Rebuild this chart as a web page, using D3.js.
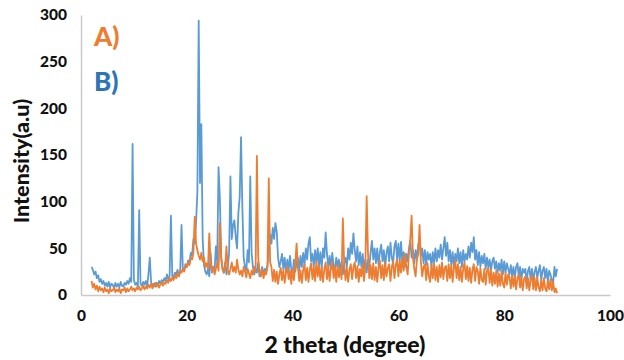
<!DOCTYPE html>
<html>
<head>
<meta charset="utf-8">
<script src="https://cdn.jsdelivr.net/npm/d3@7"></script>
<style>
  body { margin: 0; background: #fff; }
  text { font-family: Lato, "Open Sans", sans-serif; font-weight: 900; }
</style>
</head>
<body>
<svg id="chart"></svg>
<script>
// 2 theta scan, 2.00 -> 90.00 deg, one reading every 0.25 deg
const thetaStart = 2;
const thetaStep = 0.25;

// sample B) (blue)
const seriesB = [
  30, 27, 22, 25,  18, 21, 14, 17,  12, 15, 10, 13,  9, 14, 8, 12,
  11, 7, 13, 9,  12, 8, 14, 10,  9, 13, 11, 15,  12, 18, 14, 162,
  16, 11, 13, 9,  91, 12, 10, 14,  11, 15, 9, 22,  40, 14, 10, 12,
  9, 13, 11, 15,  12, 16, 14, 18,  15, 22, 17, 20,  85, 21, 18, 24,
  22, 27, 20, 25,  75, 28, 26, 33,  30, 37, 34, 45,  42, 60, 55, 78,
  110, 294, 120, 183,  60, 32, 25, 22,  28, 20, 45, 24,  30, 26, 52, 35,
  137, 104, 40, 28,  24, 35, 22, 30,  45, 127, 60, 75,  80, 62, 50, 88,
  105, 169, 95, 40,  30, 26, 48, 35,  127, 45, 30, 22,  28, 24, 35, 20,
  25, 30, 22, 28,  26, 32, 50, 65,  55, 72, 60, 77,  68, 40, 30, 36,
  44, 28, 40, 24,  38, 26, 42, 28,  22, 38, 25, 34,  40, 26, 42, 30,
  45, 32, 50, 38,  55, 62, 36, 44,  30, 48, 34, 50,  32, 46, 28, 50,
  40, 67, 44, 30,  42, 28, 45, 32,  26, 40, 30, 38,  24, 36, 22, 34,
  40, 30, 50, 38,  56, 44, 66, 48,  36, 52, 32, 46,  30, 44, 28, 38,
  24, 38, 30, 46,  58, 38, 50, 34,  50, 32, 46, 54,  36, 48, 30, 45,
  52, 36, 56, 40,  34, 52, 58, 38,  55, 36, 57, 34,  46, 30, 44, 36,
  50, 58, 40, 48,  34, 48, 38, 54,  60, 42, 50, 34,  48, 32, 46, 38,
  44, 30, 46, 34,  50, 36, 48, 40,  54, 38, 50, 62,  42, 56, 36, 48,
  32, 46, 30, 44,  36, 50, 34, 46,  30, 48, 36, 44,  38, 52, 40, 56,
  46, 62, 38, 48,  32, 46, 30, 42,  34, 44, 28, 40,  30, 38, 26, 36,
  40, 28, 36, 24,  34, 26, 38, 22,  36, 24, 34, 28,  22, 32, 20, 30,
  18, 30, 34, 20,  30, 16, 28, 24,  28, 14, 26, 30,  16, 28, 14, 25,
  30, 18, 26, 32,  16, 26, 30, 18,  28, 14, 26, 22,  16, 12, 30, 20,
  28
];

// sample A) (orange)
const seriesA = [
  15, 8, 12, 6,  10, 4, 9, 5,  7, 3, 8, 4,  6, 2, 7, 4,
  5, 8, 3, 6,  4, 7, 2, 6,  5, 8, 3, 7,  4, 6, 9, 5,
  7, 4, 8, 6,  9, 5, 7, 10,  6, 9, 7, 11,  8, 12, 7, 10,
  13, 9, 12, 8,  11, 14, 10, 13,  12, 16, 13, 18,  15, 19, 16, 21,
  18, 23, 20, 26,  24, 28, 25, 32,  30, 35, 32, 40,  38, 45, 84, 55,
  48, 42, 38, 45,  36, 40, 30, 34,  28, 66, 35, 25,  30, 22, 28, 35,
  26, 77, 40, 28,  24, 30, 52, 26,  22, 28, 35, 25,  30, 24, 38, 27,
  22, 26, 20, 30,  25, 19, 28, 23,  18, 26, 22, 30,  25, 149, 40, 24,
  20, 28, 18, 25,  22, 30, 125, 35,  30, 15, 27, 14,  25, 12, 22, 29,
  16, 27, 13, 24,  30, 17, 26, 12,  28, 16, 32, 55,  30, 15, 26, 13,
  27, 33, 16, 29,  14, 27, 34, 17,  30, 15, 36, 20,  32, 16, 29, 14,
  28, 35, 17, 31,  15, 29, 36, 18,  30, 14, 32, 19,  29, 17, 82, 33,
  16, 29, 14, 27,  33, 17, 30, 35,  18, 31, 14, 28,  20, 33, 15, 30,
  106, 45, 18, 32,  17, 34, 16, 30,  14, 29, 37, 18,  32, 16, 35, 20,
  29, 33, 15, 30,  36, 18, 32, 38,  20, 36, 24, 40,  26, 44, 30, 22,
  45, 60, 85, 40,  28, 20, 38, 44,  75, 36, 20, 30,  33, 16, 34, 20,
  14, 32, 18, 34,  16, 30, 14, 32,  19, 35, 17, 29,  31, 15, 33, 18,
  32, 14, 29, 37,  18, 33, 16, 30,  14, 28, 35, 17,  31, 15, 29, 13,
  27, 33, 15, 30,  26, 12, 29, 16,  14, 28, 11, 26,  29, 13, 27, 10,
  24, 12, 26, 9,  23, 10, 25, 12,  8, 24, 11, 22,  19, 7, 21, 9,
  20, 6, 18, 22,  8, 19, 5, 17,  20, 7, 18, 5,  17, 21, 6, 18,
  5, 19, 8, 4,  16, 5, 18, 7,  4, 15, 6, 17,  5, 14, 3, 7,
  2
];

const xTicks = [0, 20, 40, 60, 80, 100];
const yTicks = [0, 50, 100, 150, 200, 250, 300];
const labels = ['A)', 'B)'];

const width = 624;
const height = 360;
const margin = { top: 15, right: 14, bottom: 65, left: 81 };

const svg = d3.select('#chart')
  .attr('width', width)
  .attr('height', height);

const x = d3.scaleLinear().domain([0, 100]).range([margin.left, width - margin.right]);
const y = d3.scaleLinear().domain([0, 300]).range([height - margin.bottom, margin.top]);

// axes: light grey lines, no tick marks
const xAxis = svg.append('g')
  .attr('transform', 'translate(0,' + (height - margin.bottom) + ')')
  .call(d3.axisBottom(x).tickValues(xTicks).tickSize(0).tickPadding(15));
const yAxis = svg.append('g')
  .attr('transform', 'translate(' + margin.left + ',0)')
  .call(d3.axisLeft(y).tickValues(yTicks).tickSize(0).tickPadding(14));

[xAxis, yAxis].forEach((g) => {
  g.select('.domain').attr('stroke', '#c9c9c9').attr('stroke-width', 1.5);
  g.selectAll('text')
    .attr('fill', '#111')
    .style('font-size', '15.5px');
});

const line = d3.line()
  .x((d, i) => x(thetaStart + i * thetaStep))
  .y((d) => y(d));

svg.append('path')
  .datum(seriesB)
  .attr('d', line)
  .attr('fill', 'none')
  .attr('stroke', '#5B9BD5')
  .attr('stroke-width', 1.8)
  .attr('stroke-linejoin', 'round');

svg.append('path')
  .datum(seriesA)
  .attr('d', line)
  .attr('fill', 'none')
  .attr('stroke', '#ED7D31')
  .attr('stroke-width', 1.8)
  .attr('stroke-linejoin', 'round');

// series labels
svg.append('text')
  .attr('x', 94).attr('y', 46)
  .attr('fill', '#ED7D31')
  .style('font-size', '26px')
  .text(labels[0]);
svg.append('text')
  .attr('x', 94).attr('y', 91)
  .attr('fill', '#2E75B6')
  .style('font-size', '26px')
  .text(labels[1]);

// axis titles
svg.append('text')
  .attr('x', 345).attr('y', 353)
  .attr('text-anchor', 'middle')
  .attr('fill', '#111')
  .style('font-size', '23px')
  .text('2 theta (degree)');
svg.append('text')
  .attr('transform', 'translate(29,161) rotate(-90)')
  .attr('text-anchor', 'middle')
  .attr('fill', '#111')
  .style('font-size', '21.5px')
  .text('Intensity(a.u)');
</script>
</body>
</html>
